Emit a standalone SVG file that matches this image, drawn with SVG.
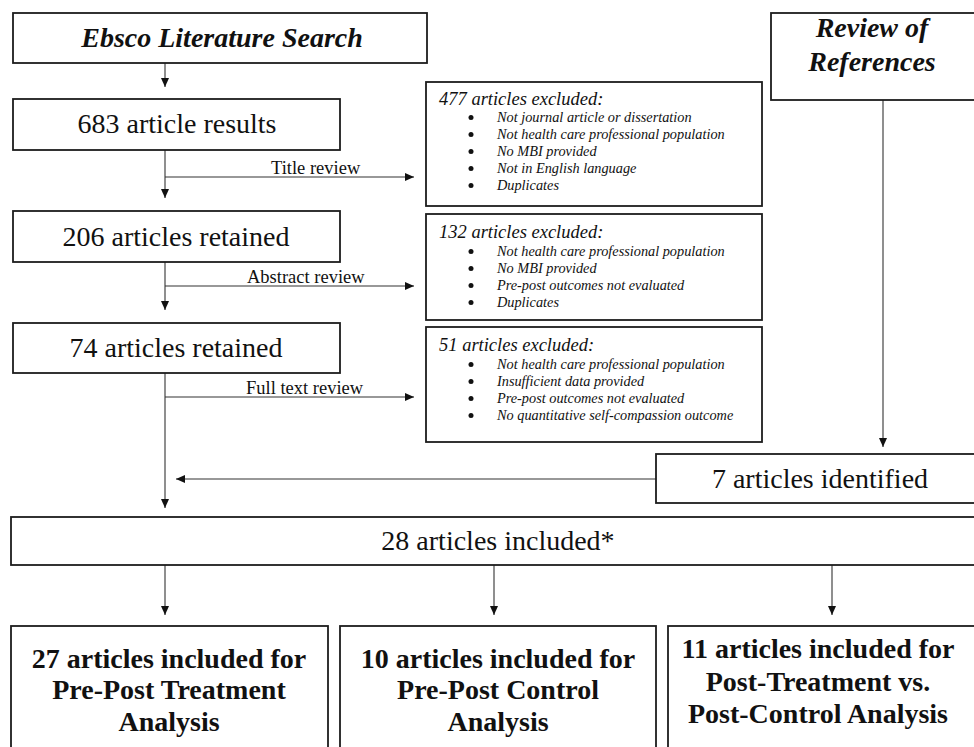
<svg xmlns="http://www.w3.org/2000/svg" width="974" height="747" viewBox="0 0 974 747">
<defs>
<style>
.box{fill:#fff;stroke:#1c1c1c;stroke-width:1.8}
.ln{fill:none;stroke:#333;stroke-width:1.1}
.t{font-family:"Liberation Serif","Times New Roman",serif;fill:#111}
.big{font-size:28px;text-anchor:middle}
.bi{font-size:28px;font-weight:bold;font-style:italic;text-anchor:middle}
.bb{font-size:28px;font-weight:bold;text-anchor:middle}
.lab{font-size:18.5px}
.hd{font-size:18.5px;font-style:italic}
.it{font-size:14.3px;font-style:italic}
.dot{fill:#111}
</style>
<marker id="ah" markerUnits="userSpaceOnUse" markerWidth="9" markerHeight="8" refX="9" refY="4" orient="auto">
<path d="M0,0 L9,4 L0,8 z" fill="#111"/>
</marker>
</defs>
<rect width="974" height="747" fill="#fff"/>

<g id="connectors">
<line class="ln" x1="165" y1="63" x2="165" y2="87" marker-end="url(#ah)"/>
<line class="ln" x1="165" y1="150" x2="165" y2="198" marker-end="url(#ah)"/>
<line class="ln" x1="165" y1="177" x2="414" y2="177" marker-end="url(#ah)"/>
<line class="ln" x1="165" y1="262" x2="165" y2="310" marker-end="url(#ah)"/>
<line class="ln" x1="165" y1="286" x2="414" y2="286" marker-end="url(#ah)"/>
<line class="ln" x1="165" y1="373" x2="165" y2="508" marker-end="url(#ah)"/>
<line class="ln" x1="165" y1="397" x2="414" y2="397" marker-end="url(#ah)"/>
<line class="ln" x1="883" y1="100" x2="883" y2="447" marker-end="url(#ah)"/>
<line class="ln" x1="656" y1="479" x2="176" y2="479" marker-end="url(#ah)"/>
<line class="ln" x1="165" y1="565" x2="165" y2="615" marker-end="url(#ah)"/>
<line class="ln" x1="494" y1="565" x2="494" y2="615" marker-end="url(#ah)"/>
<line class="ln" x1="832" y1="565" x2="832" y2="615" marker-end="url(#ah)"/>
<text class="t lab" x="271" y="174">Title review</text>
<text class="t lab" x="247" y="283">Abstract review</text>
<text class="t lab" x="246" y="394">Full text review</text>
</g>

<g id="ebsco">
<rect class="box" x="13" y="13" width="414" height="50"/>
<text class="t bi" x="222" y="47">Ebsco Literature Search</text>
</g>

<g id="review">
<rect class="box" x="771" y="13" width="210" height="87"/>
<text class="t bi" x="872" y="37">Review of</text>
<text class="t bi" x="872" y="71">References</text>
</g>

<g id="n683">
<rect class="box" x="13" y="99" width="327" height="51"/>
<text class="t big" x="177" y="133">683 article results</text>
</g>

<g id="n206">
<rect class="box" x="13" y="211" width="327" height="51"/>
<text class="t big" x="176" y="246">206 articles retained</text>
</g>

<g id="n74">
<rect class="box" x="13" y="323" width="327" height="50"/>
<text class="t big" x="176" y="357">74 articles retained</text>
</g>

<g id="ex477">
<rect class="box" x="426" y="82" width="336" height="124"/>
<text class="t hd" x="439" y="105">477 articles excluded:</text>
<circle class="dot" cx="471" cy="117.5" r="2.5"/>
<circle class="dot" cx="471" cy="134.5" r="2.5"/>
<circle class="dot" cx="471" cy="151.5" r="2.5"/>
<circle class="dot" cx="471" cy="168.5" r="2.5"/>
<circle class="dot" cx="471" cy="185.5" r="2.5"/>
<text class="t it" x="497" y="122">Not journal article or dissertation</text>
<text class="t it" x="497" y="139">Not health care professional population</text>
<text class="t it" x="497" y="156">No MBI provided</text>
<text class="t it" x="497" y="173">Not in English language</text>
<text class="t it" x="497" y="190">Duplicates</text>
</g>

<g id="ex132">
<rect class="box" x="426" y="214" width="336" height="106"/>
<text class="t hd" x="439" y="238">132 articles excluded:</text>
<circle class="dot" cx="471" cy="251.5" r="2.5"/>
<circle class="dot" cx="471" cy="268.5" r="2.5"/>
<circle class="dot" cx="471" cy="285.5" r="2.5"/>
<circle class="dot" cx="471" cy="302.5" r="2.5"/>
<text class="t it" x="497" y="256">Not health care professional population</text>
<text class="t it" x="497" y="273">No MBI provided</text>
<text class="t it" x="497" y="290">Pre-post outcomes not evaluated</text>
<text class="t it" x="497" y="307">Duplicates</text>
</g>

<g id="ex51">
<rect class="box" x="426" y="327" width="336" height="115"/>
<text class="t hd" x="439" y="351">51 articles excluded:</text>
<circle class="dot" cx="471" cy="364.5" r="2.5"/>
<circle class="dot" cx="471" cy="381.5" r="2.5"/>
<circle class="dot" cx="471" cy="398.5" r="2.5"/>
<circle class="dot" cx="471" cy="415.5" r="2.5"/>
<text class="t it" x="497" y="369">Not health care professional population</text>
<text class="t it" x="497" y="386">Insufficient data provided</text>
<text class="t it" x="497" y="403">Pre-post outcomes not evaluated</text>
<text class="t it" x="497" y="420">No quantitative self-compassion outcome</text>
</g>

<g id="n7">
<rect class="box" x="656" y="454" width="325" height="49"/>
<text class="t big" x="820" y="488">7 articles identified</text>
</g>

<g id="n28">
<rect class="box" x="11" y="517" width="970" height="48"/>
<text class="t big" x="498" y="550">28 articles included*</text>
</g>

<g id="pp-treat">
<rect class="box" x="11" y="626" width="317" height="130"/>
<text class="t bb" x="169" y="668">27 articles included for</text>
<text class="t bb" x="169" y="699">Pre-Post Treatment</text>
<text class="t bb" x="169" y="731">Analysis</text>
</g>

<g id="pp-control">
<rect class="box" x="340" y="626" width="316" height="130"/>
<text class="t bb" x="498" y="668">10 articles included for</text>
<text class="t bb" x="498" y="699">Pre-Post Control</text>
<text class="t bb" x="498" y="731">Analysis</text>
</g>

<g id="post-vs">
<rect class="box" x="668" y="626" width="313" height="130"/>
<text class="t bb" x="818" y="658">11 articles included for</text>
<text class="t bb" x="818" y="691">Post-Treatment vs.</text>
<text class="t bb" x="818" y="723">Post-Control Analysis</text>
</g>
</svg>
